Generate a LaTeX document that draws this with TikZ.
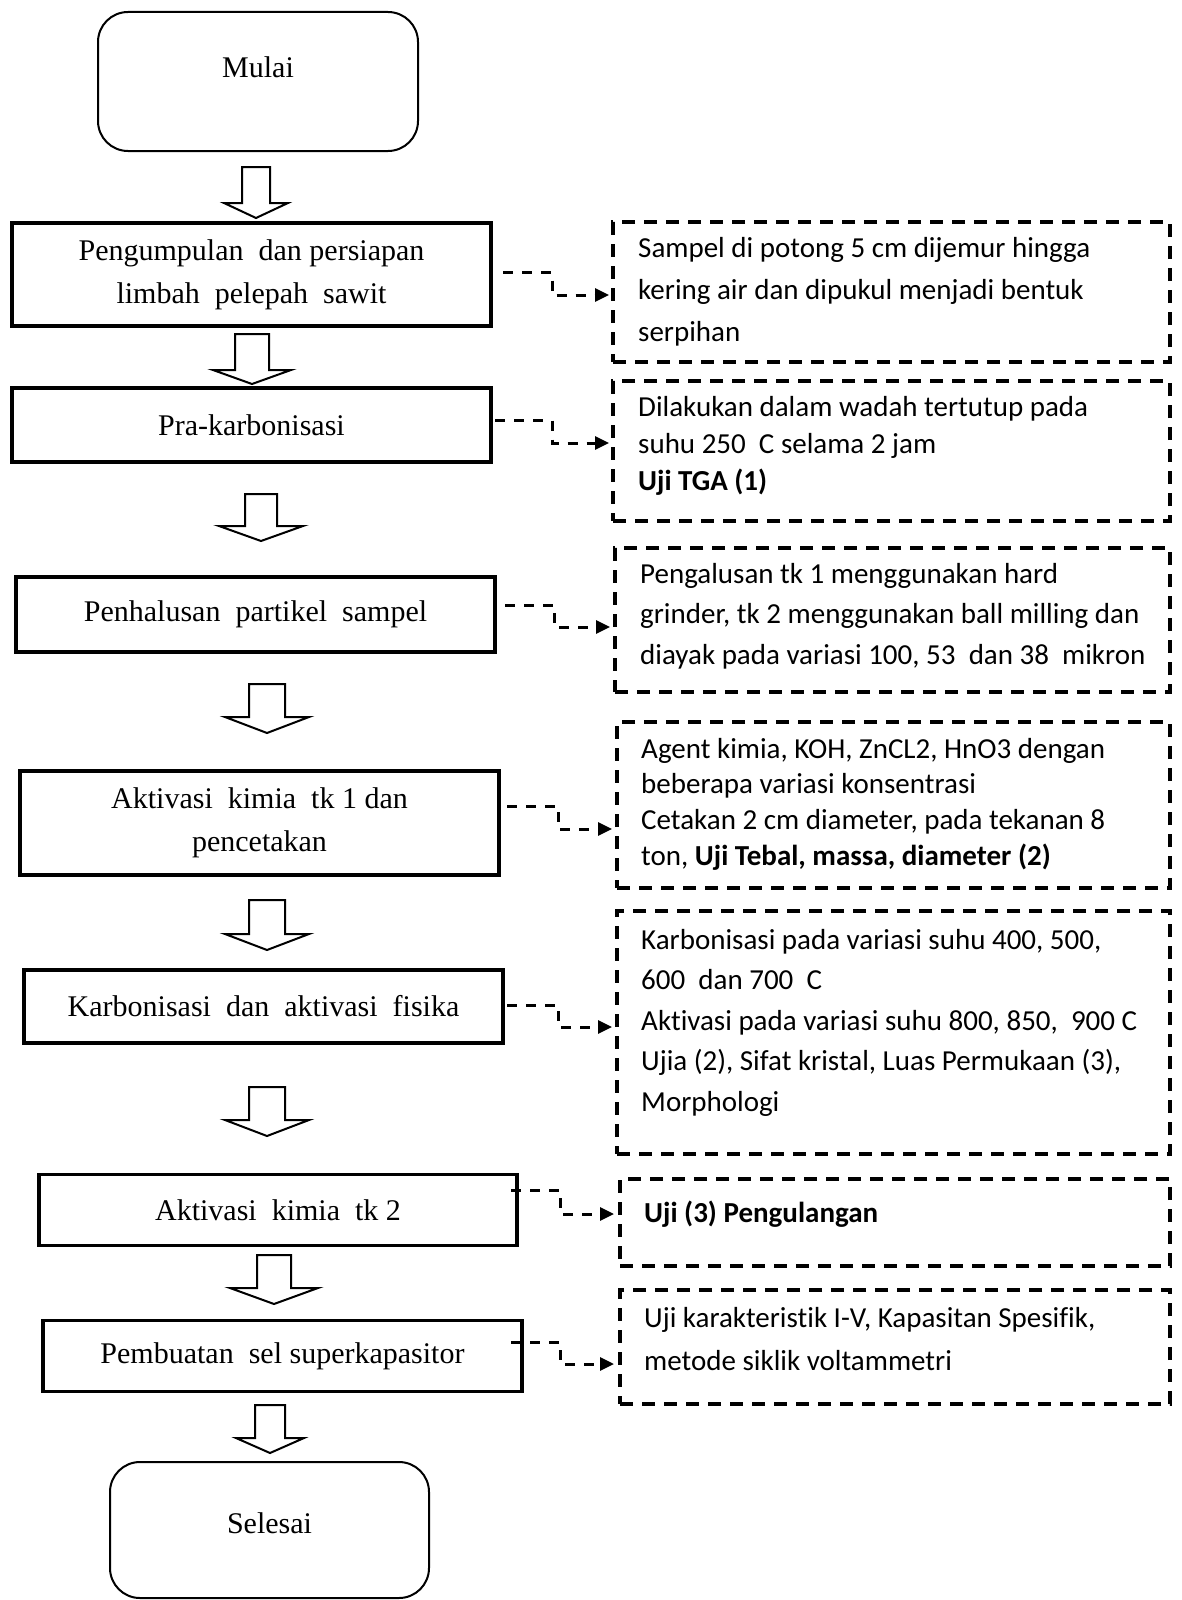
\documentclass[tikz,border=0pt]{standalone}
\usepackage{fontspec}
\setmainfont{Liberation Serif}
\newfontfamily\calib[Ligatures=NoCommon]{Carlito}
\usetikzlibrary{arrows.meta}
\newcommand{\blockarr}[6]{%
  \draw[hollow] ({#1-#5},#2) -- ({#1+#5},#2) -- ({#1+#5},#3) -- ({#1+#6},#3)
    -- (#1,#4) -- ({#1-#6},#3) -- ({#1-#5},#3) -- cycle;}
\begin{document}
\begin{tikzpicture}[x=1pt,y=-1pt,
  procbox/.style={draw, line width=3.2pt, inner sep=0pt, align=center,
    font=\fontsize{30}{43}\selectfont},
  termbox/.style={draw, line width=2pt, rounded corners=30pt, inner sep=0pt},
  termtext/.style={inner sep=0pt, anchor=base, font=\fontsize{30}{36}\selectfont},
  notebox/.style={draw, line width=3.2pt, dash pattern=on 13pt off 9pt, inner sep=0pt},
  notetext/.style={inner sep=0pt, anchor=base west, font=\calib\fontsize{29}{#1}\selectfont},
  conn/.style={line width=3pt, dash pattern=on 10pt off 9pt,
    -{Triangle[length=14pt,width=13pt]}},
  hollow/.style={draw, line width=2pt, fill=white, line join=miter}
]
\useasboundingbox (0,0) rectangle (1181,1600);

% terminals
\node[termbox, minimum width=320pt, minimum height=139pt] (mulai) at (258,81.5) {};
\node[termtext] (mulaitext) at (258,78) {Mulai};
\node[termbox, minimum width=319pt, minimum height=136pt] (selesai) at (269.5,1530) {};
\node[termtext] (selesaitext) at (269.5,1533) {Selesai};

% process boxes
\node[procbox, minimum width=479pt, minimum height=103pt] (b1) at (251.5,274.5)
  {Pengumpulan~ dan persiapan\\limbah~ pelepah~ sawit};
\node[procbox, minimum width=479pt, minimum height=74pt] (b2) at (251.5,425)
  {Pra-karbonisasi};
\node[procbox, minimum width=479pt, minimum height=75pt] (b3) at (255.5,614.5)
  {Penhalusan~ partikel~ sampel};
\node[procbox, minimum width=479pt, minimum height=104pt] (b4) at (259.5,823)
  {Aktivasi~ kimia~ tk 1 dan\\pencetakan};
\node[procbox, minimum width=479pt, minimum height=73pt] (b5) at (263.5,1006.5)
  {Karbonisasi~ dan~ aktivasi~ fisika};
\node[procbox, minimum width=478pt, minimum height=71pt] (b6) at (278,1210)
  {Aktivasi~ kimia~ tk 2};
\node[procbox, minimum width=479pt, minimum height=71pt] (b7) at (282.5,1356)
  {Pembuatan~ sel superkapasitor};

% hollow arrows
\blockarr{256}{167}{203}{218}{14}{32}
\blockarr{252}{334}{370}{384}{17}{39}
\blockarr{261}{494}{526}{541}{16}{42}
\blockarr{267}{684}{717}{733}{18}{42}
\blockarr{267}{900}{934}{950}{18}{42}
\blockarr{267}{1087}{1120}{1136}{18}{42}
\blockarr{274}{1255}{1288}{1304}{17}{44}
\blockarr{270}{1405}{1438}{1453}{15}{34}

% note boxes
\node[notebox, minimum width=557pt, minimum height=140pt] (r1) at (891.5,292) {};
\node[notebox, minimum width=557pt, minimum height=140pt] (r2) at (891.5,451) {};
\node[notebox, minimum width=555pt, minimum height=144pt] (r3) at (892.5,620) {};
\node[notebox, minimum width=553pt, minimum height=166pt] (r4) at (893.5,805) {};
\node[notebox, minimum width=553pt, minimum height=243pt] (r5) at (893.5,1032.5) {};
\node[notebox, minimum width=550pt, minimum height=87pt] (r6) at (895,1222.5) {};
\node[notebox, minimum width=550pt, minimum height=114pt] (r7) at (895,1347) {};

\node[notetext=42pt] (t1) at (638,257) {\parbox[t]{530pt}{%
  Sampel di potong 5 cm dijemur hingga\\
  kering air dan dipukul menjadi bentuk\\
  serpihan}};
\node[notetext=37pt] (t2) at (638,416) {\parbox[t]{530pt}{%
  Dilakukan dalam wadah tertutup pada\\
  suhu 250~ C selama 2 jam\\
  \textbf{Uji TGA (1)}}};
\node[notetext=40.5pt] (t3) at (640,583) {\parbox[t]{530pt}{%
  Pengalusan tk 1 menggunakan hard\\
  grinder, tk 2 menggunakan ball milling dan\\
  diayak pada variasi 100, 53~ dan 38~ mikron}};
\node[notetext=35.7pt] (t4) at (641,758) {\parbox[t]{530pt}{%
  Agent kimia, KOH, ZnCL2, HnO3 dengan\\
  beberapa variasi konsentrasi\\
  Cetakan 2 cm diameter, pada tekanan 8\\
  ton, \textbf{Uji Tebal, massa, diameter (2)}}};
\node[notetext=40.5pt] (t5) at (641,949) {\parbox[t]{530pt}{%
  Karbonisasi pada variasi suhu 400, 500,\\
  600~ dan 700~ C\\
  Aktivasi pada variasi suhu 800, 850,~ 900 C\\
  Ujia (2), Sifat kristal, Luas Permukaan (3),\\
  Morphologi}};
\node[notetext=40pt] (t6) at (644,1222) {\parbox[t]{530pt}{%
  \textbf{Uji (3) Pengulangan}}};
\node[notetext=43pt] (t7) at (644,1327) {\parbox[t]{530pt}{%
  Uji karakteristik I-V, Kapasitan Spesifik,\\
  metode siklik voltammetri}};

% connectors
\coordinate (s1) at (503,272.5);  \coordinate (m1) at (552,295);  \coordinate (e1) at (609,295);
\coordinate (s2) at (495,420.5);  \coordinate (m2) at (552,443);  \coordinate (e2) at (609,443);
\coordinate (s3) at (505,605);    \coordinate (m3) at (554,627);  \coordinate (e3) at (610,627);
\coordinate (s4) at (507,806);    \coordinate (m4) at (558,829);  \coordinate (e4) at (612,829);
\coordinate (s5) at (507,1005);   \coordinate (m5) at (558,1027); \coordinate (e5) at (612,1027);
\coordinate (s6) at (511,1190);   \coordinate (m6) at (560,1214); \coordinate (e6) at (614,1214);
\coordinate (s7) at (511,1342);   \coordinate (m7) at (560,1364); \coordinate (e7) at (614,1364);
\foreach \i in {1,...,7}{\draw[conn] (s\i) -| (m\i) -- (e\i);}
\end{tikzpicture}
\end{document}
